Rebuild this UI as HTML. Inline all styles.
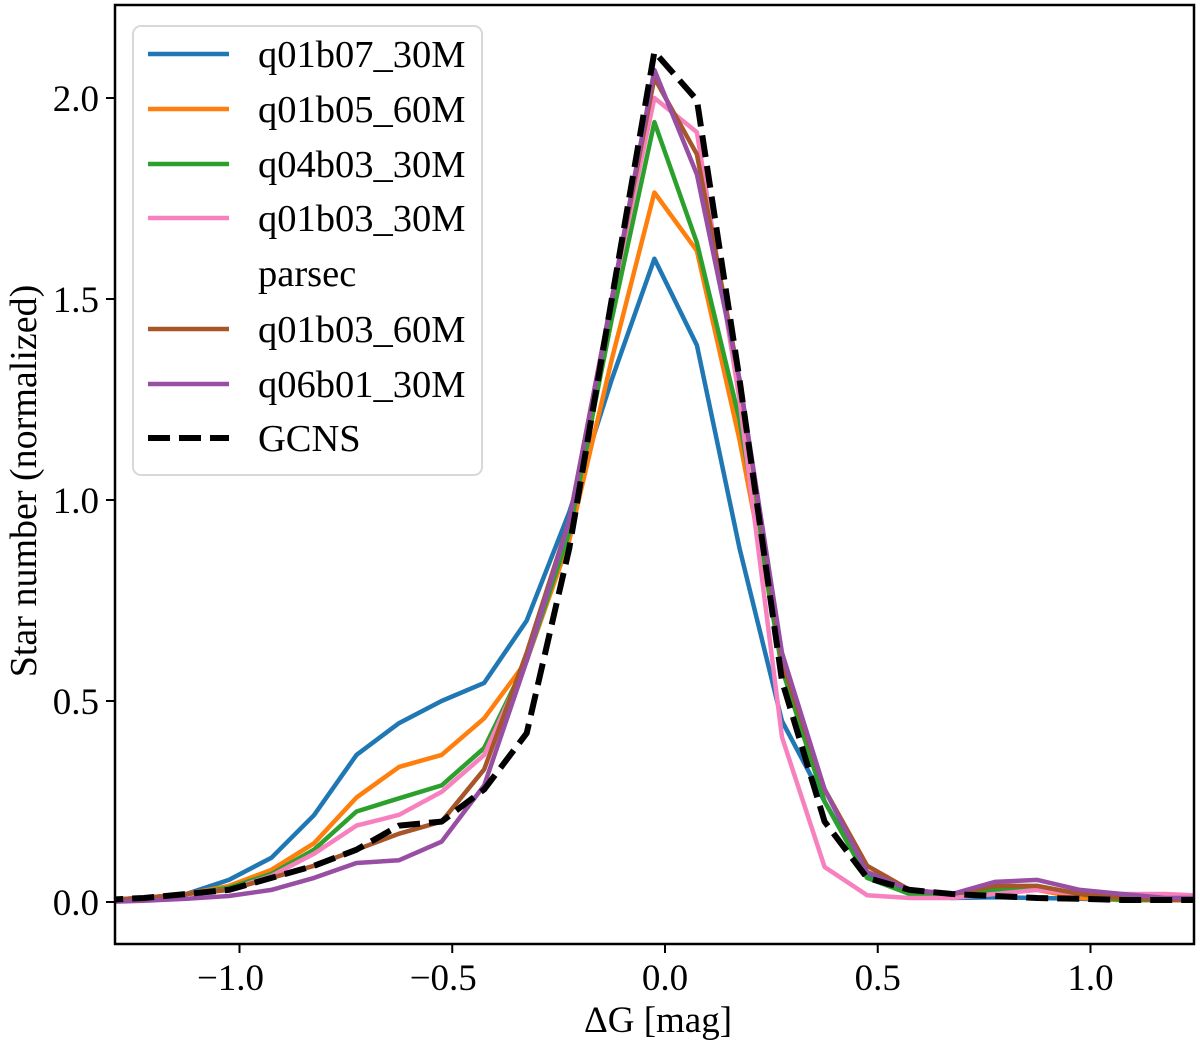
<!DOCTYPE html>
<html><head><meta charset="utf-8"><style>
html,body{margin:0;padding:0;background:#fff;}
svg text{font-family:"Liberation Serif","DejaVu Serif",serif;fill:#000;}
</style></head><body>
<svg id="chart" width="1200" height="1046" viewBox="0 0 1200 1046" xmlns="http://www.w3.org/2000/svg">
<defs><clipPath id="plotclip"><rect x="115" y="5" width="1079" height="939"/></clipPath></defs>
<g id="lines" clip-path="url(#plotclip)"></g>
<rect x="115" y="5" width="1079" height="939" fill="none" stroke="#000" stroke-width="2.5"/>
<g id="axes"></g>
<text x="658" y="1032" font-size="37" text-anchor="middle">ΔG [mag]</text>
<text transform="translate(36,481) rotate(-90)" font-size="38" text-anchor="middle">Star number (normalized)</text>
<g id="legend">
<rect x="133" y="26" width="349" height="449" rx="8" fill="#fff" fill-opacity="0.8" stroke="#d8d8d8" stroke-width="2"/>
</g>
</svg>
<script>
const bins = [-1.325,-1.225,-1.125,-1.025,-0.925,-0.825,-0.725,-0.625,-0.525,-0.425,-0.325,-0.225,-0.125,-0.025,0.075,0.175,0.275,0.375,0.475,0.575,0.675,0.775,0.875,0.975,1.075,1.175,1.275];
const q01b07_30M = [0.005,0.01,0.02,0.055,0.11,0.216,0.366,0.445,0.50,0.545,0.70,0.97,1.30,1.60,1.385,0.88,0.45,0.25,0.07,0.02,0.01,0.012,0.01,0.008,0.005,0.005,0.005];
const q01b05_60M = [0.005,0.01,0.02,0.04,0.08,0.146,0.26,0.336,0.366,0.457,0.60,0.90,1.35,1.765,1.62,1.15,0.60,0.28,0.09,0.03,0.02,0.03,0.03,0.01,0.005,0.005,0.005];
const q04b03_30M = [0.005,0.01,0.02,0.035,0.07,0.13,0.225,0.258,0.29,0.383,0.60,0.92,1.45,1.94,1.64,1.20,0.58,0.25,0.06,0.02,0.02,0.03,0.04,0.02,0.005,0.005,0.005];
const q01b03_30M = [0.005,0.01,0.02,0.03,0.065,0.12,0.19,0.217,0.274,0.366,0.60,0.95,1.50,2.00,1.915,1.25,0.41,0.087,0.017,0.01,0.01,0.02,0.03,0.02,0.02,0.02,0.015];
const q01b03_60M = [0.005,0.01,0.02,0.03,0.06,0.09,0.13,0.17,0.20,0.33,0.62,0.95,1.50,2.05,1.86,1.30,0.60,0.28,0.09,0.03,0.02,0.04,0.04,0.02,0.01,0.005,0.005];
const q06b01_30M = [0.0,0.003,0.008,0.015,0.03,0.06,0.097,0.104,0.15,0.29,0.60,0.95,1.50,2.07,1.81,1.30,0.62,0.28,0.075,0.03,0.02,0.05,0.055,0.03,0.02,0.01,0.01];
const GCNS = [0.005,0.01,0.02,0.03,0.06,0.09,0.13,0.19,0.20,0.28,0.42,0.88,1.50,2.115,1.995,1.30,0.55,0.20,0.06,0.03,0.02,0.015,0.01,0.008,0.005,0.005,0.005];
const xTicks = [-1.0,-0.5,0.0,0.5,1.0];
const xTickLabels = ["\u22121.0","\u22120.5","0.0","0.5","1.0"];
const yTicks = [0.0,0.5,1.0,1.5,2.0];
const yTickLabels = ["0.0","0.5","1.0","1.5","2.0"];

const NS='http://www.w3.org/2000/svg';
function X(v){return 665+425.5*v;}
function Y(v){return 902-402*v;}
const series=[
 {name:'q01b07_30M',data:q01b07_30M,color:'#1f77b4',id:'line-q01b07-30m'},
 {name:'q01b05_60M',data:q01b05_60M,color:'#ff7f0e',id:'line-q01b05-60m'},
 {name:'q04b03_30M',data:q04b03_30M,color:'#2ca02c',id:'line-q04b03-30m'},
 {name:'q01b03_30M',data:q01b03_30M,color:'#f781bf',id:'line-q01b03-30m'},
 {name:'q01b03_60M',data:q01b03_60M,color:'#a65628',id:'line-q01b03-60m'},
 {name:'q06b01_30M',data:q06b01_30M,color:'#984ea3',id:'line-q06b01-30m'},
 {name:'GCNS',data:GCNS,color:'#000',id:'line-gcns',dash:true}
];
const gl=document.getElementById('lines');
series.forEach(s=>{
 const p=document.createElementNS(NS,'polyline');
 p.setAttribute('points',bins.map((b,i)=>X(b).toFixed(1)+','+Y(s.data[i]).toFixed(1)).join(' '));
 p.setAttribute('fill','none');p.setAttribute('stroke',s.color);
 p.setAttribute('stroke-width',s.dash?6:4.5);p.setAttribute('stroke-linejoin','round');
 if(s.dash)p.setAttribute('stroke-dasharray','22,9');
 
 
 gl.appendChild(p);
});
const ga=document.getElementById('axes');
xTicks.forEach((t,i)=>{
 const l=document.createElementNS(NS,'line');
 l.setAttribute('x1',X(t));l.setAttribute('x2',X(t));l.setAttribute('y1',944);l.setAttribute('y2',953);
 l.setAttribute('stroke','#000');l.setAttribute('stroke-width',2);
 
 
 ga.appendChild(l);
 const tx=document.createElementNS(NS,'text');
 tx.setAttribute('x',X(t)-(t<0?9:0));tx.setAttribute('y',990);tx.setAttribute('font-size',37);tx.setAttribute('text-anchor','middle');
 tx.textContent=xTickLabels[i];
 
 
 ga.appendChild(tx);
});
yTicks.forEach((t,i)=>{
 const l=document.createElementNS(NS,'line');
 l.setAttribute('x1',106);l.setAttribute('x2',115);l.setAttribute('y1',Y(t));l.setAttribute('y2',Y(t));
 l.setAttribute('stroke','#000');l.setAttribute('stroke-width',2);
 
 
 ga.appendChild(l);
 const tx=document.createElementNS(NS,'text');
 tx.setAttribute('x',99);tx.setAttribute('y',Y(t)+13);tx.setAttribute('font-size',37);tx.setAttribute('text-anchor','end');
 tx.textContent=yTickLabels[i];
 
 
 ga.appendChild(tx);
});
const lg=document.getElementById('legend');
const entries=[
 {label:'q01b07_30M',color:'#1f77b4',y:54},
 {label:'q01b05_60M',color:'#ff7f0e',y:109},
 {label:'q04b03_30M',color:'#2ca02c',y:164},
 {label:'q01b03_30M',color:'#f781bf',y:218},
 {label:'parsec',color:null,y:273},
 {label:'q01b03_60M',color:'#a65628',y:329},
 {label:'q06b01_30M',color:'#984ea3',y:384},
 {label:'GCNS',color:'#000',y:438,dash:true}
];
entries.forEach(e=>{
 if(e.color){
  const l=document.createElementNS(NS,'line');
  l.setAttribute('x1',148);l.setAttribute('x2',229);l.setAttribute('y1',e.y);l.setAttribute('y2',e.y);
  l.setAttribute('stroke',e.color);l.setAttribute('stroke-width',e.dash?6:4.5);
  if(e.dash)l.setAttribute('stroke-dasharray','22,9');
  
  
  lg.appendChild(l);
 }
 const tx=document.createElementNS(NS,'text');
 tx.setAttribute('x',258);tx.setAttribute('y',e.y+13);tx.setAttribute('font-size',38.5);
 tx.textContent=e.label;
 
 
 lg.appendChild(tx);
});
</script>
</body></html>
